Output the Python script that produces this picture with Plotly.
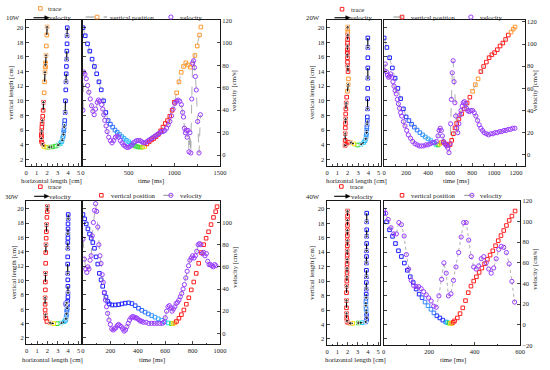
import plotly.graph_objects as go

W, H = 550, 370
FONT = 'Liberation Serif'
INK = '#1a1a1a'

# ---------------- 10W ----------------
t10 = [0, 25, 50, 75, 100, 125, 150, 175, 200, 225, 250, 275, 300, 325, 350, 375, 400, 425, 450, 475,
       500, 525, 550, 575, 600, 625, 650, 675, 700, 725, 750, 775, 800, 825, 850, 875, 900, 925, 950,
       975, 1000, 1025, 1050, 1075, 1100, 1125, 1150, 1175, 1200, 1225, 1250, 1275, 1290]
vert10 = [20.0, 18.9, 17.8, 16.8, 15.7, 14.7, 13.7, 12.6, 11.5, 10.0, 8.4, 7.3, 6.8, 6.4, 6.0, 5.7, 5.4,
          5.1, 4.85, 4.6, 4.4, 4.15, 3.95, 3.8, 3.7, 3.65, 3.65, 3.75, 4.1, 4.4, 4.65, 4.85, 5.1, 5.4,
          5.9, 6.4, 6.9, 7.3, 7.9, 8.7, 9.8, 11.1, 12.6, 13.9, 14.7, 15.2, 14.9, 14.6, 15.0, 16.2, 17.5,
          19.0, 20.1]
horiz10 = [3.92, 3.9, 3.9, 3.88, 3.86, 3.84, 3.82, 3.8, 3.78, 3.75, 3.72, 3.68, 3.65, 3.62, 3.6, 3.58,
           3.55, 3.52, 3.48, 3.44, 3.38, 3.25, 3.05, 2.8, 2.5, 2.2, 1.95, 1.7, 1.55, 1.48, 1.45, 1.45,
           1.45, 1.45, 1.48, 1.5, 1.52, 1.55, 1.58, 1.62, 1.66, 1.72, 1.76, 1.8, 1.82, 1.84, 1.84, 1.85,
           1.86, 1.9, 1.93, 1.97, 2.0]
level10 = [0, 0, 0, 0, 0, 0, 0, 0, 0, 0, 0, 0.08, 0.14, 0.18, 0.21, 0.24, 0.27, 0.29, 0.31, 0.33, 0.35,
           0.38, 0.45, 0.5, 0.5, 0.52, 0.6, 0.68, 1, 1, 1, 1, 1, 1, 1, 1, 1, 1, 1, 1, 1, 0.82, 0.82, 0.82,
           0.82, 0.82, 0.82, 0.82, 0.82, 0.82, 0.82, 0.82, 0.82]
vt10 = [0, 8, 22, 36, 51, 65, 80, 94, 109, 123, 138, 156, 170, 185, 203, 217, 228, 239, 253, 264, 282,
        300, 318, 336, 354, 373, 391, 409, 427, 445, 463, 481, 499, 517, 535, 553, 571, 589, 607, 625,
        643, 661, 680, 698, 716, 734, 752, 770, 788, 806, 824, 842, 860, 878, 896, 915, 933, 951, 969,
        987, 1005, 1023, 1041, 1059, 1077, 1090, 1100, 1110, 1120, 1130, 1140, 1150, 1160, 1170, 1180,
        1190, 1200, 1210, 1220, 1230, 1240, 1255, 1270, 1285]
vel10 = [40, 74, 72, 68, 62, 56, 50, 44, 39, 36, 41, 47, 49, 48, 45, 41, 36, 31, 26, 21, 16, 13, 11, 13,
         16, 17, 16, 13, 11, 9, 8, 7, 7, 8, 9, 11, 12, 13, 13, 13, 12, 11, 11, 12, 13, 14, 15, 16, 17, 18,
         19, 20, 21, 21, 22, 24, 27, 30, 35, 41, 46, 48, 49, 48, 45, 38, 34, 24, 20, 22, 16, 22, 3, 20, 2,
         50, 82, 84, 78, 70, 58, 30, 2, 36]

# ---------------- 20W ----------------
t20 = [0, 25, 50, 75, 100, 125, 150, 175, 200, 225, 250, 275, 300, 325, 350, 375, 400, 425, 450, 470,
       490, 505, 520, 540, 560, 580, 600, 615, 630, 645, 660, 680, 705, 730, 755, 780, 805, 830, 855,
       880, 905, 930, 955, 980, 1005, 1030, 1055, 1080, 1105, 1130, 1155, 1175, 1191]
vert20 = [18.6, 17.3, 15.9, 14.5, 13.1, 11.7, 10.3, 8.9, 7.8, 7.3, 6.8, 6.4, 6.0, 5.65, 5.35, 5.05, 4.8,
          4.55, 4.3, 4.05, 3.95, 4.1, 4.3, 4.35, 4.1, 3.9, 4.0, 4.6, 5.5, 6.3, 6.9, 7.5, 8.2, 8.9, 9.7,
          10.5, 11.3, 12.2, 13.0, 14.0, 14.7, 15.3, 15.9, 16.3, 16.6, 17.0, 17.5, 17.9, 18.4, 19.0, 19.4,
          19.8, 20.1]
horiz20 = [3.95, 3.95, 3.95, 3.95, 3.95, 3.94, 3.93, 3.92, 3.9, 3.9, 3.88, 3.86, 3.85, 3.83, 3.8, 3.78,
           3.75, 3.68, 3.55, 3.3, 2.95, 2.6, 2.3, 2.0, 1.85, 1.75, 1.75, 1.75, 1.76, 1.77, 1.78, 1.8, 1.8,
           1.82, 1.85, 1.9, 1.97, 2.05, 2.07, 2.03, 2.0, 1.98, 1.97, 1.96, 1.96, 1.97, 1.98, 1.98, 1.99,
           2.0, 2.0, 2.0, 2.0]
level20 = [0, 0, 0, 0, 0, 0, 0, 0, 0.04, 0.08, 0.12, 0.16, 0.2, 0.23, 0.26, 0.29, 0.31, 0.33, 0.36, 0.4,
           0.5, 0.65, 0.82, 1, 1, 1, 1, 1, 1, 1, 1, 1, 1, 1, 1, 1, 0.82, 0.82, 0.82, 1, 1, 1, 1, 1, 1, 1,
           1, 1, 1, 1, 0.82, 0.82, 0.82]
vt20 = [0, 10, 20, 30, 40, 50, 60, 70, 80, 90, 100, 110, 120, 130, 140, 150, 160, 175, 190, 205, 220,
        240, 260, 280, 300, 320, 340, 360, 380, 400, 420, 440, 460, 475, 490, 500, 510, 520, 530, 540,
        550, 560, 570, 580, 590, 600, 605, 612, 620, 628, 636, 644, 652, 660, 670, 680, 690, 700, 710,
        720, 730, 740, 750, 760, 775, 790, 805, 820, 835, 850, 865, 880, 895, 910, 930, 950, 970, 990,
        1010, 1030, 1050, 1070, 1090, 1110, 1130, 1150, 1170, 1190]
vel20 = [76, 82, 75, 72, 70, 71, 73, 70, 66, 62, 58, 55, 50, 46, 42, 38, 35, 30, 26, 22, 18, 15, 12, 10,
         9, 8, 8, 8, 9, 9, 10, 11, 11, 12, 17, 22, 24, 22, 17, 12, 10, 9, 8, 6, 2, 10, 28, 50, 74, 85, 66,
         47, 35, 24, 20, 28, 36, 40, 44, 47, 48, 46, 42, 40, 39, 40, 40, 38, 35, 31, 27, 24, 22, 20, 19,
         18, 19, 19, 20, 20, 21, 21, 22, 22, 23, 23, 24, 24]

# ---------------- 30W ----------------
t30 = [0, 12, 24, 36, 48, 60, 72, 84, 96, 108, 120, 132, 144, 156, 168, 180, 192, 212, 236, 260, 284,
       308, 333, 357, 381, 405, 429, 453, 477, 501, 525, 549, 574, 598, 622, 646, 658, 670, 682, 700,
       718, 736, 754, 772, 790, 808, 826, 844, 862, 880, 898, 916, 934, 952, 968, 978]
vert30 = [19.2, 18.6, 17.9, 17.2, 16.5, 15.9, 15.3, 14.5, 13.3, 12.3, 11.0, 10.1, 9.2, 8.3, 7.7, 7.1,
          6.75, 6.6, 6.6, 6.65, 6.75, 6.85, 6.9, 6.8, 6.5, 6.15, 5.85, 5.6, 5.35, 5.12, 4.9, 4.67, 4.45,
          4.27, 4.09, 4.0, 4.0, 4.1, 4.3, 4.75, 5.25, 5.9, 6.7, 7.6, 8.7, 9.8, 11.0, 12.4, 13.9, 15.0,
          15.9, 16.8, 17.8, 18.8, 19.6, 20.3]
horiz30 = [4.0, 4.0, 3.98, 3.98, 3.97, 3.97, 3.96, 3.96, 3.95, 3.95, 3.95, 3.96, 3.97, 3.98, 3.97, 3.95,
           3.92, 3.88, 3.84, 3.8, 3.78, 3.8, 3.85, 3.9, 3.92, 3.9, 3.88, 3.86, 3.84, 3.82, 3.8, 3.78,
           3.74, 3.62, 3.35, 2.95, 2.6, 2.25, 1.95, 1.85, 1.8, 1.78, 1.78, 1.78, 1.8, 1.8, 1.82, 1.83,
           1.84, 1.86, 1.88, 1.9, 1.92, 1.95, 1.98, 2.0]
level30 = [0, 0, 0, 0, 0, 0, 0, 0, 0, 0, 0, 0, 0, 0, 0, 0, 0, 0, 0, 0, 0, 0, 0.04, 0.07, 0.1, 0.13, 0.16,
           0.19, 0.22, 0.25, 0.28, 0.3, 0.33, 0.36, 0.4, 0.5, 0.65, 0.82, 1, 1, 1, 1, 1, 1, 1, 1, 1, 1,
           1, 1, 1, 1, 1, 1, 1, 1]
vt30 = [0, 10, 20, 28, 36, 44, 52, 60, 68, 76, 84, 92, 100, 108, 116, 124, 132, 140, 148, 156, 164,
        172, 180, 190, 200, 210, 220, 230, 240, 250, 260, 270, 280, 290, 300, 310, 320, 330, 340, 350,
        360, 370, 380, 390, 400, 410, 420, 430, 440, 460, 480, 500, 520, 540, 560, 580, 590, 600, 610,
        620, 630, 640, 650, 660, 670, 680, 690, 700, 710, 720, 730, 740, 750, 760, 770, 780, 790, 800,
        810, 820, 830, 840, 850, 860, 870, 880, 890, 900, 910, 920, 930, 940, 950, 960, 970]
vel30 = [85, 67, 58, 55, 60, 58, 66, 70, 88, 100, 111, 117, 110, 96, 80, 70, 63, 53, 46, 37, 30, 24, 18,
         12, 8, 4, 3, 4, 5, 7, 8, 7, 6, 4, 2, 3, 6, 9, 12, 14, 15, 15, 14, 14, 13, 12, 11, 11, 10, 10, 9,
         9, 9, 9, 9, 9, 10, 14, 20, 24, 25, 23, 20, 22, 24, 27, 28, 30, 33, 36, 40, 44, 50, 56, 61, 66,
         68, 70, 68, 70, 74, 80, 81, 80, 72, 73, 70, 72, 65, 62, 62, 61, 60, 62, 61]

# ---------------- 40W ----------------
t40 = [0, 13, 26, 39, 52, 65, 78, 91, 104, 117, 130, 143, 156, 169, 182, 195, 208, 221, 234, 247, 260,
       273, 280, 287, 294, 300, 306, 312, 324, 336, 348, 360, 372, 384, 396, 408, 420, 432, 444, 456,
       468, 480, 492, 504, 516, 528, 540, 552, 564, 578]
vert40 = [19.4, 18.2, 17.1, 16.2, 15.2, 14.2, 13.4, 12.5, 11.5, 10.6, 9.8, 8.9, 8.2, 7.7, 7.1, 6.6,
          6.1, 5.6, 5.2, 4.9, 4.6, 4.35, 4.25, 4.2, 4.15, 4.15, 4.3, 4.5, 4.9, 5.5, 6.3, 7.3, 8.4, 9.3,
          10.0, 10.6, 11.2, 11.8, 12.4, 13.0, 13.6, 14.2, 14.9, 15.6, 16.3, 17.0, 17.7, 18.4, 19.0, 19.7]
horiz40 = [3.88, 3.88, 3.88, 3.87, 3.87, 3.86, 3.86, 3.85, 3.85, 3.85, 3.84, 3.84, 3.83, 3.82, 3.8, 3.8,
           3.82, 3.85, 3.87, 3.88, 3.86, 3.78, 3.45, 3.05, 2.5, 2.25, 2.0, 1.95, 1.92, 1.9, 1.9, 1.9,
           1.9, 1.92, 1.93, 1.94, 1.95, 1.95, 1.96, 1.96, 1.97, 1.97, 1.98, 1.98, 1.98, 1.99, 1.99, 2.0,
           2.0, 2.0]
level40 = [0, 0, 0, 0, 0, 0, 0, 0, 0, 0, 0, 0, 0, 0.1, 0.22, 0.25, 0.25, 0.2, 0.08, 0.03, 0.03, 0.2,
           0.38, 0.5, 0.65, 0.78, 1, 1, 1, 1, 1, 1, 1, 1, 1, 1, 1, 1, 1, 1, 1, 1, 1, 1, 1, 1, 1, 1, 1, 1]
vt40 = [0, 9, 20, 32, 44, 56, 67, 78, 90, 100, 110, 121, 132, 143, 154, 165, 176, 187, 198, 209, 220,
        231, 243, 255, 265, 275, 285, 296, 307, 318, 330, 341, 352, 363, 374, 385, 396, 407, 418, 429,
        440, 451, 462, 473, 484, 495, 506, 517, 528, 540, 552, 564, 576]
vel40 = [111, 108, 102, 94, 88, 88, 99, 97, 86, 68, 54, 43, 38, 37, 37, 35, 32, 29, 26, 23, 18, 17, 28,
         44, 60, 50, 28, 30, 43, 56, 70, 85, 99, 99, 82, 66, 56, 54, 57, 64, 66, 60, 54, 50, 55, 64, 73,
         76, 75, 70, 59, 42, 22]

panel_labels = ['10W', '20W', '30W', '40W']

# ---------------- styling ----------------
CS = [[0.0, '#1f1fff'], [0.15, '#2b63ff'], [0.3, '#38a6ff'], [0.4, '#1ed8f5'],
      [0.5, '#2fd92f'], [0.65, '#f2e200'], [0.82, '#ff9933'], [1.0, '#ff2020']]
ORANGE = '#ff9933'
RED = '#ff2020'
PURPLE = '#9a3cff'
GRAY = '#8c8c8c'
SQ = 3.6
CI = 4.2

panels = [
    dict(t=t10, vert=vert10, horiz=horiz10, level=level10, vt=vt10, vel=vel10,
         px_trace=(24, 80), px_time=(82.3, 221.7), px_y=(16, 165),
         trange=[0, 1500], tdtick=500, tminor=250, vrange=[-9.5, 120.5], step=3,
         pos_line=True, vdash='dash', tag=(3, 14),
         ylab=(9.5, 90), xlab=(50.5, 180), tlab=(151.7, 180), vlab=(236.7, 88),
         lg=dict(tm=(39, 4.5, ORANGE), tt=(46, 4.5), va=(32, 47, 14), vtx=(46.5, 14),
                 pl=(85, 107, 13.3), pm=(96.7, 13.3, ORANGE), ptx=(108.5, 13.3),
                 vl=None, vm=(171.7, 13.3), vmt=(179.5, 13.3))),
    dict(t=t20, vert=vert20, horiz=horiz20, level=level20, vt=vt20, vel=vel20,
         px_trace=(330, 385), px_time=(388.5, 531.5), px_y=(16, 165),
         trange=[0, 1280], tdtick=200, tminor=100, vrange=[-10, 122], step=3,
         pos_line=True, vdash='dash', tag=(308, 14),
         ylab=(315, 90), xlab=(360, 180), tlab=(462, 180), vlab=(541.7, 88),
         lg=dict(tm=(345.7, 5.3, RED), tt=(353.5, 5.3), va=(338, 353, 14), vtx=(352.5, 14),
                 pl=(398, 412, 13.3), pm=(406.7, 13.3, RED), ptx=(415, 13.3),
                 vl=None, vm=(476.7, 13.3), vmt=(485, 13.3))),
    dict(t=t30, vert=vert30, horiz=horiz30, level=level30, vt=vt30, vel=vel30,
         px_trace=(24.5, 80), px_time=(82.3, 221.7), px_y=(200.7, 347),
         trange=[0, 1000], tdtick=200, tminor=100, vrange=[-10, 119.5], step=3,
         pos_line=False, vdash='dash', tag=(2, 196),
         ylab=(11.7, 274), xlab=(51, 362.7), tlab=(152.5, 362.7), vlab=(236.7, 268),
         lg=dict(tm=(39, 186.2, RED), tt=(46, 186.2), va=(32.7, 46.7, 196), vtx=(46.8, 196),
                 pl=None, pm=(101, 195, RED), ptx=(109.5, 195),
                 vl=(164, 178, 195), vm=(171.7, 195), vmt=(179.5, 195))),
    dict(t=t40, vert=vert40, horiz=horiz40, level=level40, vt=vt40, vel=vel40,
         px_trace=(330, 384.5), px_time=(388, 526.7), px_y=(200.7, 348),
         trange=[0, 600], tdtick=200, tminor=100, vrange=[-20, 120], step=2,
         pos_line=False, vdash='dot', tag=(308, 196),
         ylab=(315, 274), xlab=(359, 362.7), tlab=(458, 362.7), vlab=(541.7, 270),
         lg=dict(tm=(345, 186, RED), tt=(352.5, 186), va=(337.7, 353, 196), vtx=(353.5, 196),
                 pl=None, pm=(406.7, 195, RED), ptx=(415, 195),
                 vl=(470, 485, 195), vm=(477.7, 195), vmt=(485, 195))),
]


def nm(prefix, n):
    return prefix if n == 1 else f'{prefix}{n}'


def lay_key(prefix, n):
    return f'{prefix}axis' if n == 1 else f'{prefix}axis{n}'


def fx(px):
    return px / W


def fy(py):
    return 1 - py / H


fig = go.Figure()
lay = {}
shapes = []
annos = []

tickfont = dict(family=FONT, size=6.5, color=INK)
base_axis = dict(showline=True, linecolor=INK, linewidth=1, ticks='inside', ticklen=3,
                 tickwidth=0.8, tickcolor=INK, showgrid=False, zeroline=False, tickfont=tickfont)


def text(px, py, s, anchor='left', angle=0, size=6.8):
    annos.append(dict(x=fx(px), y=fy(py), xref='paper', yref='paper', text=s, showarrow=False,
                      xanchor=anchor, yanchor='middle', textangle=angle, borderpad=0,
                      font=dict(family=FONT, size=size, color=INK)))


def sq(px, py, color, s=1.8):
    shapes.append(dict(type='rect', xref='paper', yref='paper', xsizemode='pixel', ysizemode='pixel',
                       xanchor=fx(px), yanchor=fy(py), x0=-s, x1=s, y0=-s, y1=s,
                       line=dict(color=color, width=1), fillcolor='rgba(0,0,0,0)'))


def circ(px, py, color, s=2.1):
    shapes.append(dict(type='circle', xref='paper', yref='paper', xsizemode='pixel', ysizemode='pixel',
                       xanchor=fx(px), yanchor=fy(py), x0=-s, x1=s, y0=-s, y1=s,
                       line=dict(color=color, width=1), fillcolor='rgba(0,0,0,0)'))


def hline(x0, x1, py, color, width=1, dash='solid'):
    shapes.append(dict(type='line', xref='paper', yref='paper', x0=fx(x0), x1=fx(x1), y0=fy(py), y1=fy(py),
                       line=dict(color=color, width=width, dash=dash)))


def head(px, py):
    shapes.append(dict(type='path', xref='paper', yref='paper', xsizemode='pixel', ysizemode='pixel',
                       xanchor=fx(px), yanchor=fy(py), path='M 1,0 L -3.5,2 L -3.5,-2 Z',
                       line=dict(color='black', width=0.5), fillcolor='black'))


for k, p in enumerate(panels):
    xt, xm = 2 * k + 1, 2 * k + 2
    yt, yl, yv = 3 * k + 1, 3 * k + 2, 3 * k + 3
    top, bot = p['px_y']
    ydom = [fy(bot), fy(top)]

    lay[lay_key('x', xt)] = dict(base_axis, domain=[fx(p['px_trace'][0]), fx(p['px_trace'][1])],
                                 range=[-0.05, 5.2], dtick=1, tick0=0, mirror=True, anchor=nm('y', yt),
                                 minor=dict(ticks='inside', ticklen=1.8, dtick=0.5, tickcolor=INK))
    lay[lay_key('y', yt)] = dict(base_axis, domain=ydom, range=[1.1, 21.1], dtick=2, tick0=0,
                                 mirror=True, anchor=nm('x', xt))
    lay[lay_key('x', xm)] = dict(base_axis, domain=[fx(p['px_time'][0]), fx(p['px_time'][1])],
                                 range=p['trange'], dtick=p['tdtick'], tick0=0, mirror=True,
                                 anchor=nm('y', yl),
                                 minor=dict(ticks='inside', ticklen=1.8, dtick=p['tminor'], tickcolor=INK))
    lay[lay_key('y', yl)] = dict(base_axis, domain=ydom, range=[1.1, 21.1], dtick=2, tick0=0,
                                 showticklabels=False, anchor=nm('x', xm))
    lay[lay_key('y', yv)] = dict(base_axis, range=p['vrange'], dtick=20, tick0=0, side='right',
                                 overlaying=nm('y', yl), anchor=nm('x', xm))

    # trace plot squares
    fig.add_trace(go.Scatter(x=p['horiz'], y=p['vert'], mode='markers', xaxis=nm('x', xt), yaxis=nm('y', yt),
                             marker=dict(symbol='square-open', size=SQ, color=p['level'], colorscale=CS,
                                         cmin=0, cmax=1, line=dict(width=1)),
                             hoverinfo='skip'))
    # velocity arrows along the trajectory
    ax_, ay_, sz_ = [], [], []
    for i in range(0, len(p['horiz']) - 1, p['step']):
        ax_ += [p['horiz'][i], p['horiz'][i + 1], None]
        ay_ += [p['vert'][i], p['vert'][i + 1], None]
        sz_ += [0, 4.5, 0]
    fig.add_trace(go.Scatter(x=ax_, y=ay_, mode='lines+markers', xaxis=nm('x', xt), yaxis=nm('y', yt),
                             line=dict(color='black', width=1.1), connectgaps=False,
                             marker=dict(symbol='triangle-up', size=sz_, color='black', angleref='previous'),
                             hoverinfo='skip'))

    # time plot: vertical position
    if p['pos_line']:
        fig.add_trace(go.Scatter(x=p['t'], y=p['vert'], mode='lines', xaxis=nm('x', xm), yaxis=nm('y', yl),
                                 line=dict(color=GRAY, width=0.6, dash='dash'), hoverinfo='skip'))
    fig.add_trace(go.Scatter(x=p['t'], y=p['vert'], mode='markers', xaxis=nm('x', xm), yaxis=nm('y', yl),
                             marker=dict(symbol='square-open', size=SQ, color=p['level'], colorscale=CS,
                                         cmin=0, cmax=1, line=dict(width=1)),
                             hoverinfo='skip'))
    # time plot: velocity
    fig.add_trace(go.Scatter(x=p['vt'], y=p['vel'], mode='lines', xaxis=nm('x', xm), yaxis=nm('y', yv),
                             line=dict(color=GRAY, width=0.7, dash=p['vdash']), hoverinfo='skip'))
    fig.add_trace(go.Scatter(x=p['vt'], y=p['vel'], mode='markers', xaxis=nm('x', xm), yaxis=nm('y', yv),
                             marker=dict(symbol='circle-open', size=CI, color=PURPLE, line=dict(width=1)),
                             hoverinfo='skip'))

    # texts
    text(p['tag'][0], p['tag'][1], panel_labels[k])
    text(p['ylab'][0], p['ylab'][1], 'vertical length [cm]', anchor='center', angle=-90)
    text(p['xlab'][0], p['xlab'][1], 'horizontal length [cm]', anchor='center')
    text(p['tlab'][0], p['tlab'][1], 'time [ms]', anchor='center')
    text(p['vlab'][0], p['vlab'][1], 'velocity [cm/s]', anchor='center', angle=-90)

    # legends
    lg = p['lg']
    sq(lg['tm'][0], lg['tm'][1], lg['tm'][2])
    text(lg['tt'][0], lg['tt'][1], 'trace')
    hline(lg['va'][0], lg['va'][1] - 3, lg['va'][2], 'black', width=1.1)
    head(lg['va'][1], lg['va'][2])
    text(lg['vtx'][0], lg['vtx'][1], 'velocity')
    if lg['pl']:
        hline(lg['pl'][0], lg['pl'][1], lg['pl'][2], GRAY, width=1, dash='dash')
    sq(lg['pm'][0], lg['pm'][1], lg['pm'][2])
    text(lg['ptx'][0], lg['ptx'][1], 'vertical position')
    if lg['vl']:
        hline(lg['vl'][0], lg['vl'][1], lg['vl'][2], GRAY, width=1, dash='dash')
    circ(lg['vm'][0], lg['vm'][1], PURPLE)
    text(lg['vmt'][0], lg['vmt'][1], 'velocity')

lay.update(width=W, height=H, margin=dict(l=0, r=0, t=0, b=0), showlegend=False,
           paper_bgcolor='white', plot_bgcolor='white', hovermode=False,
           font=dict(family=FONT, size=7, color=INK), shapes=shapes, annotations=annos)
fig.update_layout(**lay)
fig.write_html('out.html', config={'displayModeBar': False, 'staticPlot': True},
               post_script="document.body.style.margin='0px';document.body.style.padding='0px';")
